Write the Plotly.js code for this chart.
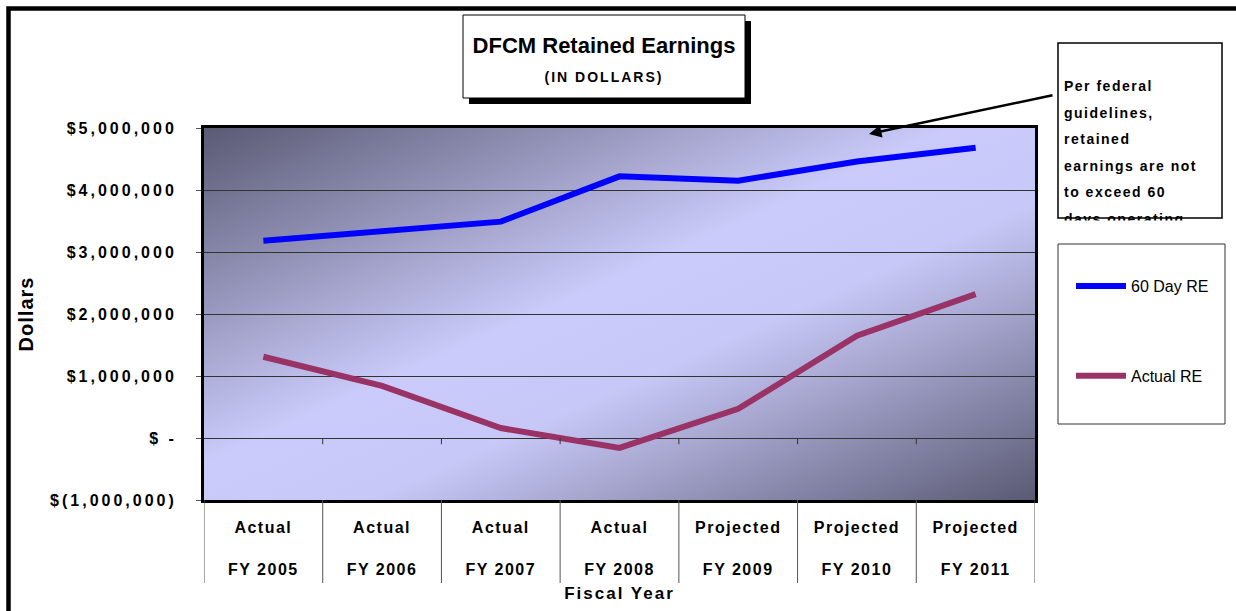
<!DOCTYPE html>
<html><head><meta charset="utf-8">
<script src="https://cdn.plot.ly/plotly-3.0.1.min.js"></script>
<style>
html,body{margin:0;padding:0;background:#fff;}
#chart{width:1236px;height:611px;}
.js-plotly-plot .xtick text{letter-spacing:1.5px;}
.js-plotly-plot .ytick text{letter-spacing:3px;}
.js-plotly-plot .g-xtitle text{letter-spacing:2px;}
.js-plotly-plot .g-ytitle text{letter-spacing:1px;}
</style></head><body><div id="chart"></div>
<script>
// ---- data ----
const periods = ["Actual","Actual","Actual","Actual","Projected","Projected","Projected"];
const years = ["FY 2005","FY 2006","FY 2007","FY 2008","FY 2009","FY 2010","FY 2011"];
const sixtyDayRE = [3180000,3340000,3490000,4220000,4150000,4460000,4680000];
const actualRE = [1310000,840000,160000,-160000,470000,1650000,2320000];
const yTickVals = [-1000000,0,1000000,2000000,3000000,4000000,5000000];
const yTickText = ["$(1,000,000)","$ -","$1,000,000","$2,000,000","$3,000,000","$4,000,000","$5,000,000"];
const noteLines = ["Per federal","guidelines,","retained","earnings are not","to exceed 60","days operating"];

// ---- helpers: pixel -> paper ----
const L=204,R=1035,T=128,B=500;
const px = x => (x-L)/(R-L);
const py = y => (B-y)/(B-T);
const FONT = "Liberation Sans, Arial, sans-serif";

const svg = '<svg xmlns="http://www.w3.org/2000/svg" width="100" height="100" viewBox="0 0 100 100" preserveAspectRatio="none"><defs><linearGradient id="g" x1="0" y1="0" x2="1" y2="1"><stop offset="0" stop-color="#5a5a74"/><stop offset="0.45" stop-color="#cbcbfb"/><stop offset="0.6" stop-color="#c8c8f8"/><stop offset="1" stop-color="#5a5a74"/></linearGradient></defs><rect width="100" height="100" fill="url(#g)"/></svg>';
const bgSrc = 'data:image/svg+xml;base64,' + btoa(svg);

const traces = [
  {x: years, y: sixtyDayRE, name: "60 Day RE", type: "scatter", mode: "lines",
   line: {color: "#0000ff", width: 6}, legendgroup: "a"},
  {x: years, y: actualRE, name: "Actual RE", type: "scatter", mode: "lines",
   line: {color: "#993366", width: 6}, legendgroup: "b"}
];

const shapes = [
  // outer frame
  {type:"rect", xref:"paper", yref:"paper", x0:px(8.5), x1:px(1260), y0:py(8.5), y1:py(640),
   line:{color:"#000", width:4.5}, fillcolor:"rgba(0,0,0,0)"},
  // title shadow + box
  {type:"rect", xref:"paper", yref:"paper", x0:px(469), x1:px(751), y0:py(21), y1:py(104),
   line:{width:0}, fillcolor:"#000"},
  {type:"rect", xref:"paper", yref:"paper", x0:px(463), x1:px(745), y0:py(15), y1:py(98),
   line:{color:"#000", width:1}, fillcolor:"#fff"},
  // note box
  {type:"rect", xref:"paper", yref:"paper", x0:px(1058), x1:px(1222), y0:py(43), y1:py(218),
   line:{color:"#000", width:1.5}, fillcolor:"#fff"},
  // legend box
  {type:"rect", xref:"paper", yref:"paper", x0:px(1058), x1:px(1225), y0:py(244), y1:py(424),
   line:{color:"#333", width:1}, fillcolor:"#fff"}
];
// category separators below the plot
for (let i=0;i<=years.length;i++){
  shapes.push({type:"line", xref:"x", yref:"paper", x0:i-0.5, x1:i-0.5, y0:0, y1:py(583),
    line:{color:"#555", width:1}});
}
// small ticks on the zero line
for (let i=1;i<years.length;i++){
  shapes.push({type:"line", xref:"x", yref:"y", x0:i-0.5, x1:i-0.5, y0:0, y1:-100000,
    line:{color:"#333", width:1}});
}

const noteText = noteLines.map(l => '<span style="font-size:14px;letter-spacing:1.5px">'+l+'</span>').join('<br>');

const annotations = [
  {xref:"paper", yref:"paper", x:px(1062), y:py(76), xanchor:"left", yanchor:"top", align:"left",
   showarrow:false, text: noteText, font:{family:FONT, size:20.4, color:"#000", weight:"bold"}},
  {xref:"paper", yref:"paper", x:px(1045), y:py(219.5), xanchor:"left", yanchor:"top",
   showarrow:false, text:" ", width:185, height:18, borderpad:0, bgcolor:"#fff"},
  {xref:"paper", yref:"paper", x:px(869), y:py(134), showarrow:true, text:"",
   ax:185, ay:-39, arrowhead:2, arrowsize:1, arrowwidth:2.5, arrowcolor:"#000"}
];

const layout = {
  width:1236, height:611, autosize:false,
  margin:{l:L, r:1236-R, t:T, b:611-B},
  paper_bgcolor:"#fff", plot_bgcolor:"rgba(0,0,0,0)",
  font:{family:FONT, color:"#000"},
  title:{text:'DFCM Retained Earnings<br><span style="font-size:14px;letter-spacing:2px">(IN DOLLARS)</span>',
    font:{family:FONT, size:22, weight:"bold", color:"#000"},
    xref:"container", yref:"container", x:604/1236, xanchor:"center", y:1-53/611, yanchor:"top"},
  showlegend:true,
  legend:{x:px(1071), y:py(269), xanchor:"left", yanchor:"top", bgcolor:"rgba(0,0,0,0)",
    borderwidth:0, tracegroupgap:66, itemwidth:50, font:{family:FONT, size:16, color:"#000"}},
  xaxis:{type:"category", range:[-0.5, years.length-0.5], tickvals: years,
    ticktext: years.map((y,i)=>periods[i]+'<br><br>'+y),
    tickfont:{family:FONT, size:16, weight:"bold", color:"#000"},
    ticks:"", showgrid:false, zeroline:false, showline:true, mirror:true, linewidth:3, linecolor:"#000",
    ticklabelstandoff:11,
    title:{text:"Fiscal Year", font:{family:FONT, size:17, weight:"bold", color:"#000"}, standoff:11}},
  yaxis:{range:[-1000000,5000000], tickvals:yTickVals, ticktext:yTickText,
    tickfont:{family:FONT, size:16, weight:"bold", color:"#000"},
    ticks:"outside", ticklen:5, tickcolor:"#555", ticklabelstandoff:16,
    showgrid:true, gridcolor:"#333", gridwidth:1, zeroline:false,
    showline:true, mirror:true, linewidth:3, linecolor:"#000",
    title:{text:"Dollars", font:{family:FONT, size:20, weight:"bold", color:"#000"}, standoff:48}},
  images:[{source:bgSrc, xref:"paper", yref:"paper", x:0, y:1, sizex:1, sizey:1,
    sizing:"stretch", xanchor:"left", yanchor:"top", layer:"below"}],
  shapes: shapes,
  annotations: annotations
};

Plotly.newPlot("chart", traces, layout, {displayModeBar:false, responsive:false});
</script></body></html>
